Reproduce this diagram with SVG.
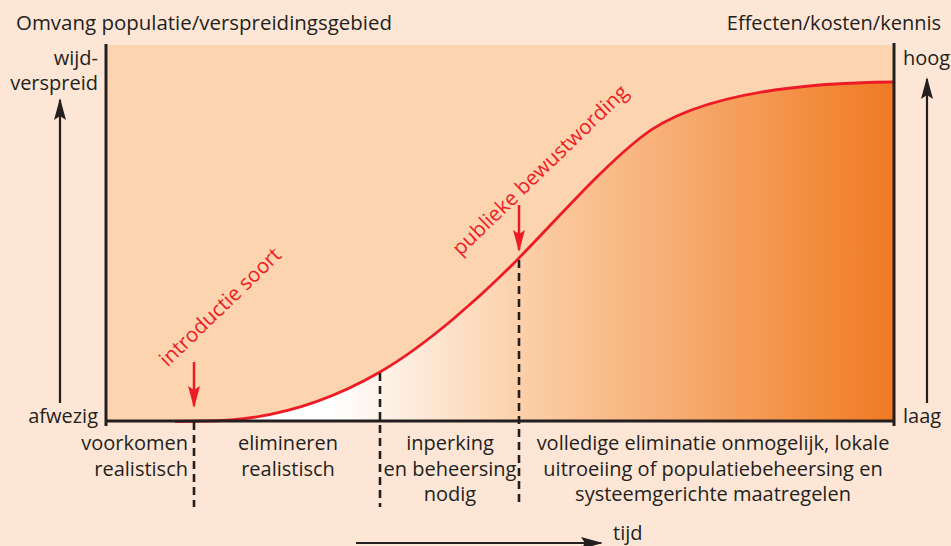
<svg xmlns="http://www.w3.org/2000/svg" width="951" height="546" viewBox="0 0 951 546">
  <style>
    .t { font-family: "Open Sans", "Liberation Sans", sans-serif; font-size: 20px; fill: #231f20; }
    .r { font-family: "Open Sans", "Liberation Sans", sans-serif; font-size: 20.5px; fill: #ed1c24; }
    .ax { stroke: #231f20; stroke-width: 3; fill: none; }
    .arr { stroke: #231f20; stroke-width: 2.2; fill: none; marker-end: url(#hk); }
    .rarr { stroke: #ed1c24; stroke-width: 2.5; fill: none; marker-end: url(#hr); }
    .dash { stroke: #231f20; stroke-width: 2.6; stroke-dasharray: 8 5; fill: none; }
    .mid { text-anchor: middle; }
    .end { text-anchor: end; }
  </style>
  <defs>
    <linearGradient id="g" gradientUnits="userSpaceOnUse" x1="106" y1="0" x2="893" y2="0">
      <stop offset="0" stop-color="#ffffff"/>
      <stop offset="0.29" stop-color="#ffffff"/>
      <stop offset="0.526" stop-color="#fcd0aa"/>
      <stop offset="1" stop-color="#f07a22"/>
    </linearGradient>
    <marker id="hk" markerUnits="userSpaceOnUse" viewBox="0 -7 22 14" refX="20" refY="0" markerWidth="22" markerHeight="14" orient="auto">
      <path d="M0,-6 L22,0 L0,6 L4,0 Z" fill="#231f20"/>
    </marker>
    <marker id="hr" markerUnits="userSpaceOnUse" viewBox="0 -7 22 14" refX="20" refY="0" markerWidth="22" markerHeight="14" orient="auto">
      <path d="M0,-6 L22,0 L0,6 L4,0 Z" fill="#ed1c24"/>
    </marker>
  </defs>

  <rect x="0" y="0" width="951" height="546" fill="#fde6d5"/>

  <g id="plot">
    <rect x="106" y="45" width="788" height="376" fill="#fcd4b0"/>
    <path d="M205 421 C275 421 335 398 380 372 C425 346 480 298 519 258 C560 216 600 170 640 138 C690 98 780 83 893 82 L893 421 Z" fill="url(#g)"/>
    <path d="M175 421.5 L205 421 C275 421 335 398 380 372 C425 346 480 298 519 258 C560 216 600 170 640 138 C690 98 780 83 893 82" fill="none" stroke="#ed1c24" stroke-width="2.8"/>
  </g>

  <g id="connectors">
    <line class="ax" x1="106" y1="44" x2="106" y2="426"/>
    <line class="ax" x1="894" y1="43" x2="894" y2="426"/>
    <line class="ax" x1="106" y1="421" x2="894" y2="421"/>
    <line class="arr" x1="60" y1="403" x2="60" y2="100"/>
    <line class="arr" x1="927" y1="403" x2="927" y2="79"/>
    <line class="arr" x1="356" y1="543" x2="601" y2="543"/>
    <line class="dash" x1="194" y1="422" x2="194" y2="507"/>
    <line class="dash" x1="380" y1="373" x2="380" y2="507"/>
    <line class="dash" x1="519" y1="260" x2="519" y2="507"/>
    <line class="rarr" x1="194" y1="362" x2="194" y2="406"/>
    <line class="rarr" x1="519" y1="205" x2="519" y2="250"/>
  </g>

  <g id="axis-labels">
    <text class="t" x="16" y="30" textLength="376" lengthAdjust="spacingAndGlyphs">Omvang populatie/verspreidingsgebied</text>
    <text class="t end" x="941" y="30">Effecten/kosten/kennis</text>
    <text class="t end" x="98" y="65">wijd-</text>
    <text class="t end" x="98" y="90">verspreid</text>
    <text class="t end" x="98" y="423">afwezig</text>
    <text class="t" x="903" y="65">hoog</text>
    <text class="t" x="903" y="423">laag</text>
    <text class="t" x="613" y="540">tijd</text>
  </g>

  <g id="event-introductie">
    <text class="r mid" transform="translate(225 312) rotate(-44)">introductie soort</text>
  </g>
  <g id="event-publiek">
    <text class="r mid" transform="translate(545 175) rotate(-44)">publieke bewustwording</text>
  </g>

  <g id="phase-1">
    <text class="t end" x="188" y="450">voorkomen</text>
    <text class="t end" x="188" y="476">realistisch</text>
  </g>
  <g id="phase-2">
    <text class="t mid" x="288" y="450">elimineren</text>
    <text class="t mid" x="288" y="476">realistisch</text>
  </g>
  <g id="phase-3">
    <text class="t mid" x="450" y="450">inperking</text>
    <text class="t mid" x="450" y="476">en beheersing</text>
    <text class="t mid" x="450" y="501">nodig</text>
  </g>
  <g id="phase-4">
    <text class="t mid" x="713" y="450">volledige eliminatie onmogelijk, lokale</text>
    <text class="t mid" x="713" y="476">uitroeiing of populatiebeheersing en</text>
    <text class="t mid" x="713" y="501">systeemgerichte maatregelen</text>
  </g>
</svg>
